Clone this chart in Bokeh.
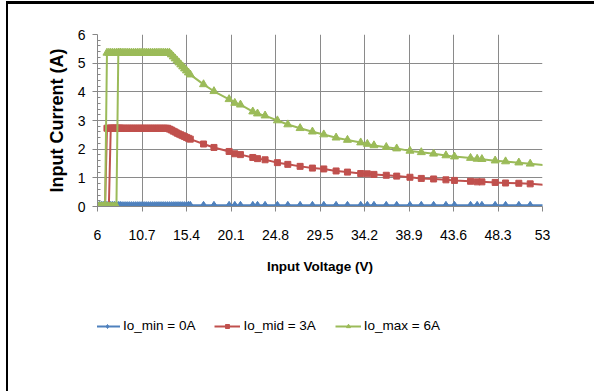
from bokeh.plotting import figure
from bokeh.layouts import column
from bokeh.models import FixedTicker, Legend, LegendItem, Range1d
from bokeh.embed import file_html
from bokeh.resources import INLINE

# ---- measured input current vs. input voltage ----
# low-voltage region, sampled finely (rising sweep)
vin_dense = [6.0, 6.2, 6.4, 6.6, 6.8, 7.0, 7.2, 7.4, 7.6, 7.8,
             8.0, 8.2, 8.4, 8.6, 8.8, 9.0, 9.2, 9.4, 9.6, 9.8,
             10.0, 10.2, 10.4, 10.6, 10.8, 11.0, 11.2, 11.4, 11.6, 11.8,
             12.0, 12.2, 12.4, 12.6, 12.8, 13.0, 13.2, 13.4, 13.6, 13.8,
             14.0, 14.2, 14.4, 14.6, 14.8, 15.0, 15.2, 15.4, 15.6, 15.8]
imin_dense = [0.03, 0.03, 0.03, 0.03, 0.03, 0.03, 0.03, 0.03, 0.03, 0.03,
              0.03, 0.03, 0.03, 0.03, 0.03, 0.03, 0.03, 0.03, 0.03, 0.03,
              0.03, 0.03, 0.03, 0.03, 0.03, 0.03, 0.03, 0.03, 0.03, 0.03,
              0.03, 0.03, 0.03, 0.03, 0.03, 0.03, 0.03, 0.03, 0.03, 0.03,
              0.03, 0.03, 0.03, 0.03, 0.03, 0.03, 0.03, 0.03, 0.04, 0.04]
imid_dense = [0.0, 0.0, 0.0, 0.0, 0.0, 0.0, 0.0, 2.73, 2.73, 2.73,
              2.73, 2.73, 2.73, 2.73, 2.73, 2.73, 2.73, 2.73, 2.73, 2.73,
              2.73, 2.73, 2.73, 2.73, 2.73, 2.73, 2.73, 2.73, 2.73, 2.73,
              2.73, 2.73, 2.73, 2.73, 2.73, 2.73, 2.73, 2.73, 2.70, 2.67,
              2.63, 2.60, 2.56, 2.53, 2.50, 2.47, 2.44, 2.41, 2.38, 2.35]
imax_dense = [0.0, 0.0, 0.0, 0.0, 0.0, 0.0, 0.0, 0.0, 0.0, 0.0,
              0.0, 5.36, 5.36, 5.36, 5.36, 5.36, 5.36, 5.36, 5.36, 5.36,
              5.36, 5.36, 5.36, 5.36, 5.36, 5.36, 5.36, 5.36, 5.36, 5.36,
              5.36, 5.36, 5.36, 5.36, 5.36, 5.36, 5.36, 5.36, 5.36, 5.30,
              5.23, 5.16, 5.09, 5.02, 4.95, 4.88, 4.81, 4.74, 4.67, 4.60]

# higher-voltage region, coarser steps
vin_sparse = [17.2, 18.3, 19.9, 20.5, 21.1, 22.4, 22.9, 23.7, 25.0, 26.1,
              27.4, 28.7, 29.9, 31.2, 32.4, 33.8, 34.5, 35.2, 36.5, 37.6,
              39.0, 40.2, 41.5, 42.8, 43.7, 45.4, 46.1, 46.6, 48.0, 49.1,
              50.5, 51.7, 54.0]
imin_sparse = [0.04, 0.04, 0.04, 0.04, 0.04, 0.04, 0.04, 0.04, 0.04, 0.04,
               0.04, 0.04, 0.04, 0.04, 0.04, 0.04, 0.04, 0.04, 0.04, 0.04,
               0.04, 0.04, 0.04, 0.04, 0.04, 0.04, 0.04, 0.04, 0.04, 0.04,
               0.04, 0.04, 0.04]
imid_sparse = [2.18, 2.06, 1.92, 1.84, 1.81, 1.71, 1.67, 1.63, 1.53, 1.47,
               1.40, 1.34, 1.31, 1.24, 1.20, 1.15, 1.14, 1.12, 1.09, 1.06,
               1.02, 0.98, 0.96, 0.93, 0.91, 0.88, 0.86, 0.86, 0.84, 0.82,
               0.81, 0.79, 0.73]
imax_sparse = [4.26, 4.02, 3.74, 3.61, 3.55, 3.31, 3.24, 3.17, 3.00, 2.86,
               2.73, 2.61, 2.51, 2.40, 2.32, 2.23, 2.18, 2.13, 2.07, 2.02,
               1.94, 1.89, 1.84, 1.78, 1.74, 1.69, 1.66, 1.65, 1.60, 1.57,
               1.53, 1.49, 1.42]

# falling sweep near the undervoltage lockout
vin_down = [8.4, 8.2, 8.0, 7.8, 7.6, 7.4, 7.2, 7.0, 6.8, 6.6, 6.4, 6.2, 6.0]
imin_down = [0.03, 0.03, 0.03, 0.03, 0.03, 0.03, 0.03, 0.03, 0.03, 0.03, 0.03, 0.03, 0.03]
imid_down = [2.73, 2.73, 2.73, 2.73, 2.73, 2.73, 2.73, 2.73, 0.0, 0.0, 0.0, 0.0, 0.0]
imax_down = [5.36, 5.36, 5.36, 5.36, 5.36, 5.36, 5.36, 5.36, 0.0, 0.0, 0.0, 0.0, 0.0]

x_tick_labels = ["6", "10.7", "15.4", "20.1", "24.8", "29.5", "34.2", "38.9", "43.6", "48.3", "53"]
y_ticks = [0, 1, 2, 3, 4, 5, 6]

series = [
    ("Io_min = 0A", "#4F81BD", "diamond", 8, imin_dense, imin_sparse, imin_down),
    ("Io_mid = 3A", "#C0504D", "square", 6, imid_dense, imid_sparse, imid_down),
    ("Io_max = 6A", "#9BBB59", "triangle", 8, imax_dense, imax_sparse, imax_down),
]

FONT = "Liberation Sans"

# ---- main chart ----
p = figure(width=586, height=286, output_backend="svg", toolbar_location=None,
           x_range=Range1d(6, 53), y_range=Range1d(0, 6),
           min_border_left=89, min_border_right=52, min_border_top=30, min_border_bottom=84)
p.outline_line_color = None
p.background_fill_color = "white"
p.border_fill_color = "white"

x_tick_vals = [float(s) for s in x_tick_labels]
p.xaxis.ticker = FixedTicker(ticks=x_tick_vals)
p.xaxis.major_label_overrides = {v: s for v, s in zip(x_tick_vals, x_tick_labels)}
p.yaxis.ticker = FixedTicker(ticks=y_ticks,
                             minor_ticks=[k / 5 for k in range(0, 31) if k % 5])

for ax in (p.xaxis, p.yaxis):
    ax.axis_line_color = "#878787"
    ax.major_tick_line_color = "#878787"
    ax.major_tick_out = 5
    ax.major_tick_in = 0
    ax.major_label_text_font = FONT
    ax.major_label_text_font_size = "14px"
    ax.major_label_text_color = "black"
    ax.axis_label_text_font_style = "bold"
    ax.axis_label_text_color = "black"
    ax.axis_label_text_font = FONT

p.xaxis.minor_tick_line_color = None
p.yaxis.minor_tick_line_color = "#878787"
p.yaxis.minor_tick_in = 3
p.yaxis.minor_tick_out = 0

p.xaxis.axis_label = "Input Voltage (V)"
p.xaxis.axis_label_text_font_size = "13.5px"
p.xaxis.major_label_standoff = 18
p.xaxis.axis_label_standoff = 16

p.yaxis.axis_label = "Input Current (A)"
p.yaxis.axis_label_text_font_size = "18px"
p.yaxis.major_label_standoff = 7
p.yaxis.axis_label_standoff = 8

p.grid.grid_line_color = "#8a8a8a"
p.grid.grid_line_width = 1

for label, color, marker, size, i_dense, i_sparse, i_down in series:
    vin_up = vin_dense + vin_sparse
    i_up = i_dense + i_sparse
    p.line(vin_up, i_up, line_color=color, line_width=2)
    p.scatter(vin_up, i_up, marker=marker, size=size,
              fill_color=color, line_color=color)
    p.line(vin_down, i_down, line_color=color, line_width=2)
    p.scatter(vin_down, i_down, marker=marker, size=size,
              fill_color=color, line_color=color)

# ---- legend strip below the chart ----
leg = figure(width=586, height=101, output_backend="svg", toolbar_location=None,
             x_range=Range1d(0, 1), y_range=Range1d(0, 1),
             x_axis_location=None, y_axis_location=None,
             min_border=0, min_border_left=0, min_border_right=0,
             min_border_top=0, min_border_bottom=0)
leg.outline_line_color = None
leg.grid.visible = False
leg.border_fill_color = "white"

# one off-screen point per key so the legend has a glyph to draw
items = []
for label, color, marker, size, *_ in series:
    ln = leg.line([-10, -11], [-10, -11], line_color=color, line_width=2)
    sc = leg.scatter([-10], [-10], marker=marker, size=size,
                     fill_color=color, line_color=color)
    items.append(LegendItem(label=label, renderers=[ln, sc]))

legend = Legend(items=items, orientation="horizontal", location=(-3, 58),
                glyph_width=26, glyph_height=10, label_standoff=3, spacing=19,
                padding=0, margin=0, border_line_color=None,
                background_fill_alpha=0,
                label_text_font=FONT, label_text_font_size="13.5px",
                label_text_color="black")
leg.add_layout(legend, "center")

layout = column(p, leg, spacing=0)
layout.styles = {"margin-left": "6px", "margin-top": "1px",
                 "border-left": "2px solid black", "border-top": "3px solid black"}

open("out.html", "w").write(file_html(layout, INLINE))
